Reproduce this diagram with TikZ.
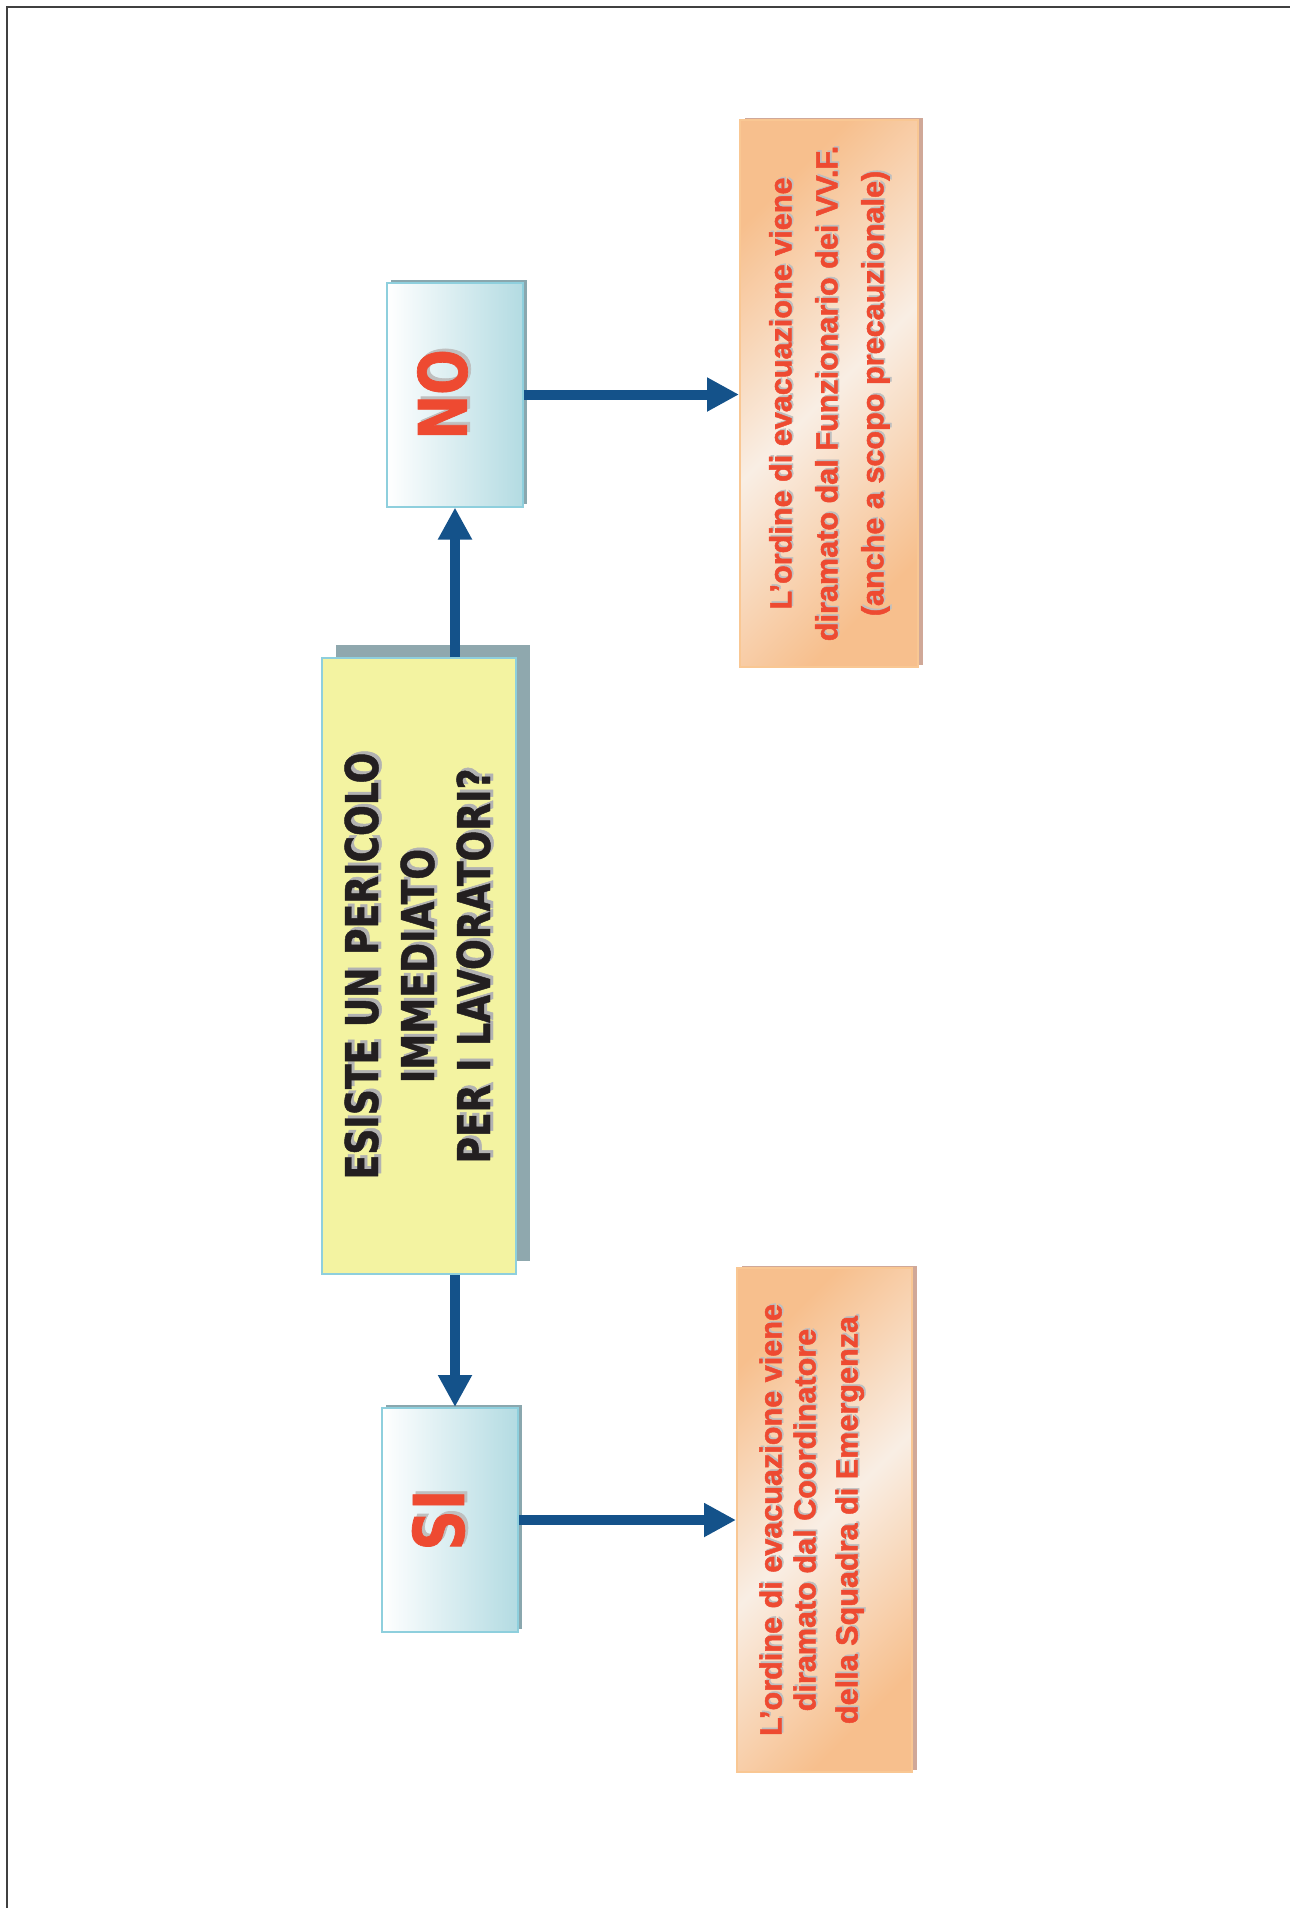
\documentclass[tikz,border=0pt]{standalone}
\usepackage{fontspec}
\usepackage{graphicx}
\usetikzlibrary{arrows.meta,shadows}
\newfontfamily\qfont[FakeStretch=0.8, BoldFeatures={FakeBold=1}]{DejaVu Sans}
\newfontfamily\ofont[BoldFeatures={FakeBold=1.5}]{Liberation Sans}

\definecolor{qyellow}{HTML}{F3F3A1}
\definecolor{qborder}{HTML}{8ECFDD}
\definecolor{qshadow}{HTML}{8FA8AE}
\definecolor{ansblue}{HTML}{B3DBE2}
\definecolor{ansshadow}{HTML}{8AA7AE}
\definecolor{ordpeach}{HTML}{F7BF8D}
\definecolor{ordlight}{HTML}{F9EEE4}
\definecolor{ordborder}{HTML}{F9C793}
\definecolor{ordshadow}{HTML}{D0A898}
\definecolor{arrblue}{HTML}{14528A}
\definecolor{txtred}{HTML}{EE4A31}
\definecolor{txtdark}{HTML}{231F20}
\definecolor{framegrey}{HTML}{404040}

% text with a small grey shadow: offset, colour, shadow colour, text
\newcommand{\shadowed}[4]{\makebox[0pt][l]{\hspace*{#1}\raisebox{-#1}{\color{#3}#4}}{\color{#2}#4}}

\tikzset{
  question/.style={draw=qborder, line width=1pt, fill=qyellow, inner sep=0pt,
    minimum width=97pt, minimum height=308pt,
    drop shadow={shadow xshift=7pt, shadow yshift=6.5pt, fill=qshadow, opacity=1}},
  answer/.style={draw=qborder, line width=1pt, left color=white, right color=ansblue,
    inner sep=0pt, minimum width=68pt, minimum height=112pt,
    drop shadow={shadow xshift=2pt, shadow yshift=1.5pt, fill=ansshadow, opacity=1}},
  order/.style={draw=ordborder, line width=1pt, top color=ordpeach, bottom color=ordpeach,
    middle color=ordlight, shading angle=45, inner sep=0pt,
    drop shadow={shadow xshift=2.5pt, shadow yshift=1pt, fill=ordshadow, opacity=1}},
  flow/.style={draw=arrblue, line width=5pt, -{Triangle[length=16pt,width=16pt]}}
}

\begin{document}
\begin{tikzpicture}[x=0.5pt, y=-0.5pt]
    \useasboundingbox (0,0) rectangle (1290,1908);
    \draw[line width=1pt, framegrey] (6.5,1908) -- (6.5,6.5) -- (1290,6.5);

    \node[question] (q) at (419,966) {\rotatebox{90}{\qfont\bfseries\fontsize{22.6}{28}\selectfont
      \raisebox{0pt}[\height][\dimexpr\depth-5.3pt\relax]{\shadowed{1.5pt}{txtdark}{gray!60}{\begin{tabular}{@{}c@{}}ESISTE UN PERICOLO\\ IMMEDIATO\\ PER I LAVORATORI?\end{tabular}}}}};
    \node[answer] (no) at (455,394.5) {\rotatebox{90}{\qfont\bfseries\fontsize{33.5}{40}\selectfont
      \raisebox{0pt}[\height][13pt]{\shadowed{1.5pt}{txtred}{gray!50}{NO}}}};
    \node[answer] (si) at (450,1520) {\rotatebox{90}{\qfont\bfseries\fontsize{35}{40}\selectfont
      \raisebox{0pt}[\height][12pt]{\shadowed{1.5pt}{txtred}{gray!50}{SI}}}};

    \node[order, minimum width=89pt, minimum height=273.5pt] (noord) at (829,393.5) {\rotatebox{90}{\ofont\bfseries\fontsize{15.3}{23}\selectfont
      \shadowed{0.8pt}{txtred}{gray!50}{\begin{tabular}{@{}c@{}}L’ordine di evacuazione viene\\ diramato dal Funzionario dei VV.F.\\ (anche a scopo precauzionale)\end{tabular}}}};
    \node[order, minimum width=87.5pt, minimum height=252pt] (siord) at (824.5,1520) {\rotatebox{90}{\ofont\bfseries\fontsize{15.3}{17}\selectfont
      \raisebox{0pt}[\height][\dimexpr\depth+11pt\relax]{\shadowed{0.8pt}{txtred}{gray!50}{\begin{tabular}{@{}c@{}}L’ordine di evacuazione viene\\ diramato dal Coordinatore\\[4pt] della Squadra di Emergenza\end{tabular}}}}};

    \draw[flow] (q.north -| no.south) -- (no.south);
    \draw[flow] (q.south -| no.south) -- (si.north -| no.south);
    \draw[flow] (no.east) -- (noord.west |- no.east);
    \draw[flow] (si.east) -- (siord.west |- si.east);
\end{tikzpicture}
\end{document}
